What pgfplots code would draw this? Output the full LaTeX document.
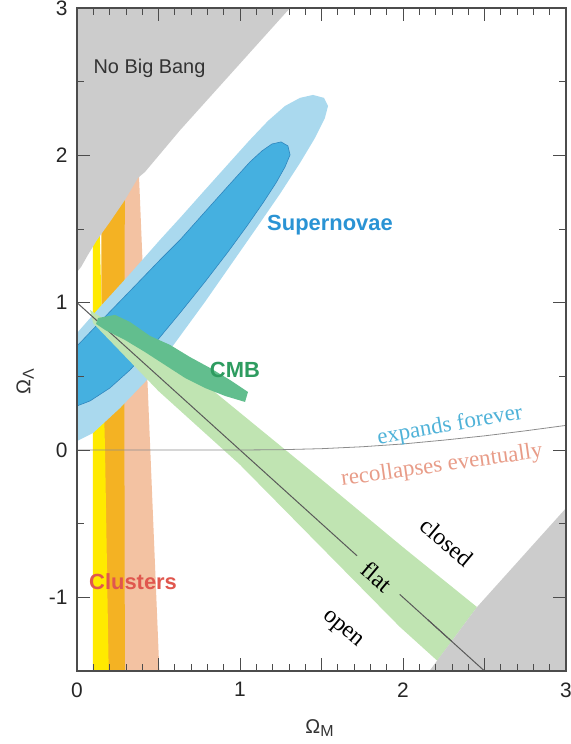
\documentclass[border=0pt]{standalone}
\usepackage{fontspec}
\setmainfont{Liberation Sans}
\newfontfamily\serifface{Liberation Serif}
\usepackage{pgfplots}
\pgfplotsset{compat=1.18}

\definecolor{nbbgray}{HTML}{CCCCCC}
\definecolor{snouter}{HTML}{AAD9EE}
\definecolor{sninner}{HTML}{45B0E0}
\definecolor{snedge}{HTML}{2F86BE}
\definecolor{clyellow}{HTML}{FFEA00}
\definecolor{clorange}{HTML}{F4B223}
\definecolor{clsalmon}{HTML}{F3C2A2}
\definecolor{cmblight}{HTML}{C0E4B2}
\definecolor{cmbdark}{HTML}{62BE8E}
\definecolor{sntext}{HTML}{2A93D4}
\definecolor{cmbtext}{HTML}{2E9C60}
\definecolor{cltext}{HTML}{E0574E}
\definecolor{exptext}{HTML}{4FB2D8}
\definecolor{rectext}{HTML}{E89C88}

\newcommand{\sublab}[1]{\raisebox{-0.35ex}{\fontsize{16}{16}\selectfont #1}}

\begin{document}
\begin{tikzpicture}
\begin{axis}[
  scale only axis, width=489bp, height=663bp,
  xmin=0, xmax=3, ymin=-1.5, ymax=3,
  axis line style={draw=black!70, line width=1.3pt},
  xtick={0,1,2,3}, ytick={-1,0,1,2,3},
  minor xtick={0.1,0.2,0.3,0.4,0.6,0.7,0.8,0.9,1.1,1.2,1.3,1.4,1.6,1.7,1.8,1.9,2.1,2.2,2.3,2.4,2.6,2.7,2.8,2.9},
  extra x ticks={0.5,1.5,2.5}, extra x tick labels={},
  extra x tick style={tick style={black!70, line width=0.8pt}},
  minor ytick={-0.5,0.5,1.5,2.5},
  tick align=inside,
  major tick length=13bp, minor tick length=7bp,
  tick style={black!70, line width=0.8pt},
  /pgf/number format/assume math mode=true,
  ticklabel style={font=\fontsize{21}{24}\selectfont, text=black!85},
  xticklabel style={yshift=-8bp},
  yticklabel style={xshift=-6bp},
  xlabel={Ω\sublab{M}}, ylabel={Ω\sublab{Λ}},
  every axis x label/.style={at={(axis description cs:0.496,-0.086)}, anchor=center,
    font=\fontsize{20}{24}\selectfont, text=black!80},
  every axis y label/.style={at={(axis description cs:-0.106,0.436)}, anchor=center, rotate=90,
    font=\fontsize{20}{24}\selectfont, text=black!80},
  axis on top,
]
\coordinate (sw) at (rel axis cs:0,0);
\coordinate (ne) at (rel axis cs:1,1);

% clusters: mass density bands
\addplot[fill=clsalmon, draw=none] coordinates {
  (0.20,-1.6) (0.509,-1.6) (0.432,0.475) (0.38,1.87) (0.20,1.87)} -- cycle;
\addplot[fill=clorange, draw=none] coordinates {
  (0.15,-1.6) (0.294,-1.6) (0.290,0.5) (0.294,1.9) (0.15,1.9)} -- cycle;
\addplot[fill=clyellow, draw=none] coordinates {
  (0.098,-1.6) (0.196,-1.6) (0.172,0.0) (0.13,1.9) (0.098,1.9)} -- cycle;

% no big bang region
\addplot[fill=nbbgray, draw=none] coordinates {
  (0,3.1) (1.307,3.1) (1.307,3.0) (0.632,2.17) (0.417,1.887) (0.374,1.847)
  (0.294,1.697) (0.202,1.548) (0.123,1.426) (0.067,1.324) (0.025,1.242) (0,1.208)} -- cycle;

% supernovae confidence regions (outer and inner contour)
\addplot[fill=snouter, draw=none] coordinates {
  (0.000,0.794) (0.141,0.971) (0.325,1.195) (0.509,1.426) (0.632,1.575)
  (0.785,1.765) (0.939,1.955) (1.061,2.105) (1.172,2.234) (1.276,2.335)
  (1.368,2.390) (1.448,2.410) (1.515,2.390) (1.540,2.335) (1.521,2.254)
  (1.460,2.118) (1.368,1.948) (1.245,1.738) (1.110,1.521) (0.969,1.297)
  (0.785,1.005) (0.601,0.726) (0.429,0.475) (0.264,0.285) (0.098,0.115)
  (0.000,0.061) (-0.1,0.0) (-0.1,0.75)} -- cycle;
\addplot[fill=sninner, draw=snedge, line width=0.6pt] coordinates {
  (0.000,0.706) (0.141,0.869) (0.325,1.079) (0.509,1.290) (0.632,1.426)
  (0.785,1.616) (0.939,1.806) (1.061,1.955) (1.135,2.030) (1.196,2.077)
  (1.252,2.091) (1.294,2.064) (1.307,2.003) (1.276,1.921) (1.221,1.813)
  (1.141,1.677) (1.043,1.521) (0.926,1.344) (0.785,1.141) (0.632,0.930)
  (0.479,0.726) (0.325,0.543) (0.202,0.421) (0.080,0.333) (0.000,0.299)
  (-0.1,0.25) (-0.1,0.65)} -- cycle;

% CMB constraint
\addplot[fill=cmblight, draw=none] coordinates {
  (0.08,0.95) (0.4,0.72) (0.755,0.475) (1.5,-0.2) (2.0,-0.66) (2.454,-1.066)
  (2.21,-1.43) (1.98,-1.20) (1.0,-0.1) (0.5,0.4) (0.1,0.86)} -- cycle;

% flat universe line
\addplot[draw=black!65, line width=1pt] coordinates {(0,1) (1.718,-0.718)};
\addplot[draw=black!65, line width=1pt] coordinates {(1.98,-0.98) (2.5,-1.5)};

\addplot[fill=cmbdark, draw=none] coordinates {
  (0.129,0.896) (0.233,0.917) (0.325,0.869) (0.448,0.774) (0.571,0.713) (0.693,0.631)
  (0.816,0.557) (0.939,0.475) (1.049,0.394) (1.031,0.326) (0.908,0.367) (0.785,0.421)
  (0.663,0.489) (0.540,0.577) (0.417,0.665) (0.294,0.747) (0.172,0.815) (0.117,0.856)} -- cycle;

% boundary between eternal expansion and recollapse
\addplot[draw=black!45, line width=0.8pt] coordinates {
  (0,0) (1,0) (1.25,0.002) (1.5,0.009) (1.75,0.022) (2,0.041) (2.25,0.067)
  (2.5,0.096) (2.75,0.130) (3,0.167)};

% lower right excluded region
\addplot[fill=nbbgray, draw=none] coordinates {
  (2.16,-1.6) (2.166,-1.494) (2.454,-1.066) (3.006,-0.387) (3.1,-0.387) (3.1,-1.6)} -- cycle;
\addplot[draw=black!65, line width=1pt] coordinates {(2.15,-1.15) (2.5,-1.5)};

\node[anchor=west, text=black!80, font=\fontsize{20}{24}\selectfont] at (axis cs:0.08,2.59) {No Big Bang};
\node[text=sntext, font=\bfseries\fontsize{22}{26}\selectfont] at (axis cs:1.552,1.527) {Supernovae};
\node[text=cmbtext, font=\bfseries\fontsize{22}{26}\selectfont] at (axis cs:0.969,0.543) {CMB};
\node[text=cltext, font=\bfseries\fontsize{22}{26}\selectfont] at (axis cs:0.344,-0.896) {Clusters};
\node[text=exptext, font=\serifface\fontsize{23}{26}\selectfont, rotate=10, inner sep=1pt] at (axis cs:2.288,0.163) {expands forever};
\node[text=rectext, font=\serifface\fontsize{23}{26}\selectfont, rotate=8, inner sep=1pt] at (axis cs:2.239,-0.109) {recollapses eventually};
\node[text=black, font=\serifface\fontsize{24}{26}\selectfont, rotate=-40, inner sep=0pt] at (axis cs:2.27,-0.625) {closed};
\node[text=black, font=\serifface\fontsize{24}{26}\selectfont, rotate=-40, inner sep=0pt] at (axis cs:1.84,-0.86) {flat};
\node[text=black, font=\serifface\fontsize{24}{26}\selectfont, rotate=-40, inner sep=0pt] at (axis cs:1.626,-1.222) {open};
\end{axis}
\pgfresetboundingbox
\path ([shift={(-77bp,-73bp)}]sw) rectangle ([shift={(5bp,8bp)}]ne);
\end{tikzpicture}
\end{document}
